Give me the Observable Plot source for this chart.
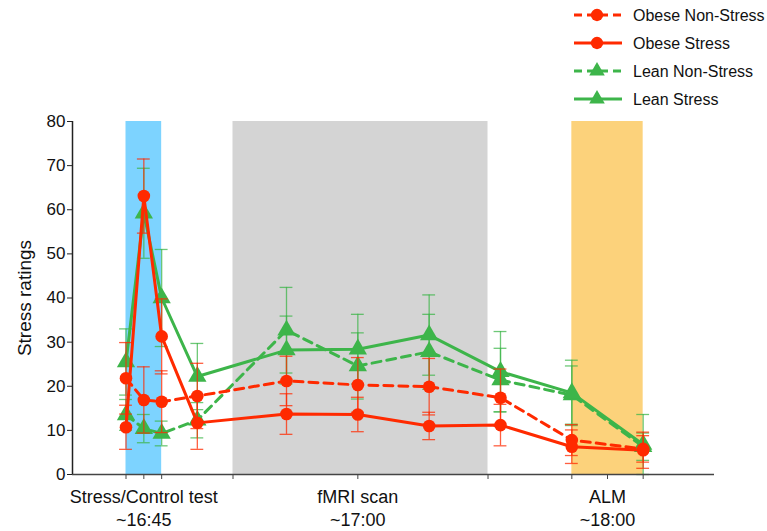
<!DOCTYPE html>
<html>
<head>
<meta charset="utf-8">
<script src="https://cdn.jsdelivr.net/npm/d3@7"></script>
<script src="https://cdn.jsdelivr.net/npm/@observablehq/plot@0.6"></script>
<style>
  body { margin: 0; background: #fff; font-family: "Liberation Sans", Arial, sans-serif; }
  #wrap { width: 767px; height: 531px; position: relative; }
</style>
</head>
<body>
<div id="wrap"></div>
<script>
// ---- data ----
const timePoints = [0, 1, 2, 4, 9, 13, 17, 21, 25, 29];
const seriesNames = ["Obese Non-Stress", "Obese Stress", "Lean Non-Stress", "Lean Stress"];
const obeseNonStress   = [21.8, 16.9, 16.5, 17.8, 21.2, 20.3, 19.9, 17.4, 7.8, 5.8];
const obeseNonStressSE = [8.1, 7.5, 7.0, 7.4, 5.6, 6.2, 6.4, 6.5, 3.5, 3.0];
const obeseStress      = [10.7, 63.1, 31.3, 11.7, 13.7, 13.6, 11.0, 11.2, 6.3, 5.5];
const obeseStressSE    = [5.0, 8.4, 8.5, 6.0, 4.6, 3.9, 3.1, 4.7, 3.8, 4.1];
const leanNonStress    = [13.5, 10.4, 9.3, 12.3, 32.7, 24.6, 27.8, 21.4, 18.0, 6.3];
const leanNonStressSE  = [3.5, 3.2, 2.8, 4.0, 9.7, 7.5, 8.5, 7.2, 6.6, 3.1];
const leanStress       = [25.5, 59.2, 40.0, 22.2, 28.2, 28.4, 31.6, 23.3, 18.5, 6.8];
const leanStressSE     = [7.5, 10.2, 11.0, 7.5, 7.7, 7.9, 9.1, 9.1, 7.4, 6.8];

const phaseStart = [0, 6, 25];
const phaseEnd   = [2, 20.3, 29];
const phaseColors = ["#7DD3FF", "#D4D4D4", "#FCD27B"];
const phaseLabelPos = [1, 13, 27];
const phaseLabels = ["Stress/Control test\n~16:45", "fMRI scan\n~17:00", "ALM\n~18:00"];
const xTickPos = [0, 1, 2, 6, 13, 20.3, 25, 27, 29];
const yTicks = [0, 10, 20, 30, 40, 50, 60, 70, 80];

// ---- styles ----
const RED = "#FF2A00", GREEN = "#3DB54A";
const styles = {
  "Obese Non-Stress": {values: obeseNonStress, se: obeseNonStressSE, color: RED, dash: "9,6", symbol: "circle"},
  "Obese Stress": {values: obeseStress, se: obeseStressSE, color: RED, dash: null, symbol: "circle"},
  "Lean Non-Stress": {values: leanNonStress, se: leanNonStressSE, color: GREEN, dash: "9,6", symbol: "triangle"},
  "Lean Stress": {values: leanStress, se: leanStressSE, color: GREEN, dash: null, symbol: "triangle"}
};
const drawOrder = ["Lean Non-Stress", "Lean Stress", "Obese Non-Stress", "Obese Stress"];

const phases = phaseStart.map((s, i) => ({x1: s, x2: phaseEnd[i], fill: phaseColors[i]}));
const capHalf = 0.36;

const marks = [
  Plot.rectY(phases, {x1: "x1", x2: "x2", y1: 0, y2: 80, fill: "fill"})
];
for (const name of drawOrder) {
  const st = styles[name];
  const rows = timePoints.map((x, i) => ({x, y: st.values[i], se: st.se[i]}));
  marks.push(
    Plot.ruleX(rows, {x: "x", y1: d => d.y - d.se, y2: d => d.y + d.se, stroke: st.color, strokeWidth: 1.3, strokeOpacity: 0.75}),
    Plot.ruleY(rows, {y: d => d.y + d.se, x1: d => d.x - capHalf, x2: d => d.x + capHalf, stroke: st.color, strokeWidth: 1.3, strokeOpacity: 0.75}),
    Plot.ruleY(rows, {y: d => d.y - d.se, x1: d => d.x - capHalf, x2: d => d.x + capHalf, stroke: st.color, strokeWidth: 1.3, strokeOpacity: 0.75}),
    Plot.line(rows, {x: "x", y: "y", stroke: st.color, strokeWidth: 3, strokeDasharray: st.dash, strokeLinejoin: "round"}),
    Plot.dot(rows, {x: "x", y: "y", symbol: st.symbol, r: st.symbol === "circle" ? 6.3 : 6.8, fill: st.color, stroke: "none"})
  );
}
marks.push(
  Plot.ruleY([0], {stroke: "#444", strokeWidth: 1.5}),
  Plot.ruleX([-3], {stroke: "#222", strokeWidth: 1.5}),
  Plot.axisY({ticks: yTicks, tickSize: 5, tickPadding: 2, fontSize: 17, label: null, stroke: "#222", fill: "#111"}),
  Plot.axisX({ticks: xTickPos, tickSize: 5, tickFormat: () => "", label: null, stroke: "#444"}),
  Plot.text(phaseLabelPos.map((x, i) => ({x, t: phaseLabels[i]})), {x: "x", y: 0, text: "t", lineAnchor: "top", dy: 12, fontSize: 18, lineHeight: 1.28, fill: "#111"}),
  Plot.text(["Stress ratings"], {frameAnchor: "left", textAnchor: "middle", dx: -48, rotate: -90, fontSize: 19, fill: "#111"})
);

// ---- legend ----
const legend = d3.create("svg").attr("width", 767).attr("height", 109).style("display", "block")
  .style("font-family", "'Liberation Sans', Arial, sans-serif");
seriesNames.forEach((name, i) => {
  const st = styles[name];
  const cy = 15 + i * 28;
  const g = legend.append("g");
  g.append("line").attr("x1", 574).attr("x2", 622).attr("y1", cy).attr("y2", cy)
    .attr("stroke", st.color).attr("stroke-width", 3).attr("stroke-dasharray", st.dash ? "8,5" : null);
  const sym = d3.symbol(st.symbol === "circle" ? d3.symbolCircle : d3.symbolTriangle, st.symbol === "circle" ? 120 : 105)();
  g.append("path").attr("d", sym).attr("transform", `translate(597,${cy})`).attr("fill", st.color);
  g.append("text").attr("x", 633).attr("y", cy).attr("dy", "0.35em").attr("font-size", 16).attr("fill", "#111").text(name);
});

const chart = Plot.plot({
  width: 767,
  height: 422,
  marginTop: 12,
  marginBottom: 57,
  marginLeft: 72,
  marginRight: 53,
  style: {fontFamily: "'Liberation Sans', Arial, sans-serif", background: "#fff", overflow: "visible"},
  x: {domain: [-3, 33], axis: null},
  y: {domain: [0, 80], axis: null},
  marks
});

const wrap = document.getElementById("wrap");
wrap.appendChild(legend.node());
wrap.appendChild(chart);
</script>
</body>
</html>
